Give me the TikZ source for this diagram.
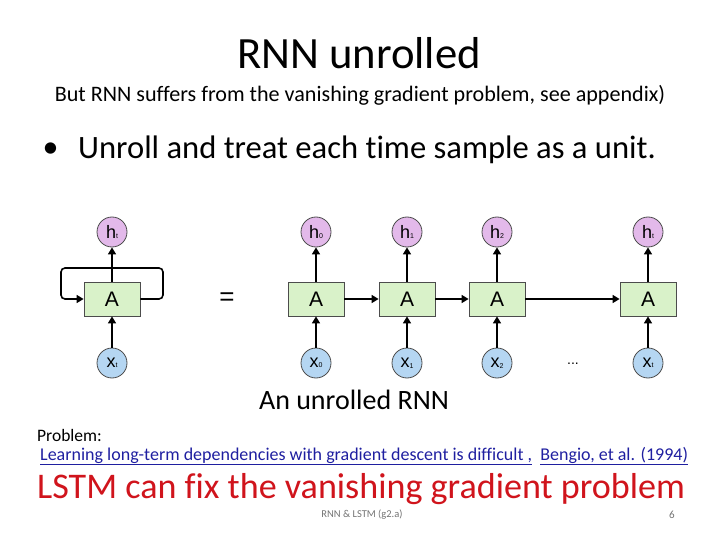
\documentclass[tikz,border=0pt]{standalone}
\usepackage{fontspec}
\setmainfont{Carlito}[Ligatures=NoCommon]
\newfontfamily\diag{Liberation Sans}
\usetikzlibrary{arrows.meta}
\definecolor{boxfill}{HTML}{D9F2C9}
\definecolor{hfill}{HTML}{E3B9EA}
\definecolor{xfill}{HTML}{B5D6F2}
\definecolor{linkblue}{HTML}{1F1FA0}
\definecolor{redtxt}{HTML}{D0141C}
\tikzset{
  cell/.style={draw=black!70, fill=boxfill, line width=0.8pt, minimum width=56pt, minimum height=34pt, inner sep=0pt, font=\diag\fontsize{21}{21}\selectfont},
  hnode/.style={circle, draw=black!70, fill=hfill, line width=0.8pt, minimum size=30pt, inner sep=0pt, font=\diag\fontsize{18}{18}\selectfont},
  xnode/.style={circle, draw=black!70, fill=xfill, line width=0.8pt, minimum size=30pt, inner sep=0pt, font=\diag\fontsize{18}{18}\selectfont},
  conn/.style={line width=1.6pt, -{Triangle[length=7pt,width=8pt]}},
}
\newcommand{\tinysub}[1]{\raisebox{-0.5pt}{\fontsize{7}{7}\selectfont #1}}
\begin{document}
\begin{tikzpicture}[x=1pt,y=-1pt]
\useasboundingbox (0,0) rectangle (720,540);
\node (title) at (359,53) {\fontsize{44.7}{44.7}\selectfont RNN unrolled};
\node (sub) at (360,95) {\fontsize{22.1}{22.1}\selectfont But RNN suffers from the vanishing gradient problem, see appendix)};
\node[anchor=west] (bullet) at (39,150) {\fontsize{32}{32}\selectfont\textbullet};
\node[anchor=west, inner sep=0pt] (btext) at (78,150) {\fontsize{32.6}{32.6}\selectfont Unroll and treat each time sample as a unit.};

% left folded RNN
\node[cell] (A) at (112,299) {A};
\node[hnode] (h) at (112,232) {h\tinysub{t}};
\node[xnode] (x) at (112,363) {x\tinysub{t}};
\draw[conn] (x) -- (A);
\draw[conn] (A) -- (h);
\draw[conn, rounded corners=4pt] (A.east) -- (163,299) -- (163,268) -- (61,268) -- (61,299) -- (A.west);
\node (eq) at (227,299) {\diag\fontsize{26}{26}\selectfont =};

% unrolled
\foreach \i/\xx/\lab in {0/316/0, 1/407/1, 2/497/2, 3/648/t}{
  \node[cell] (A\i) at (\xx,299) {A};
  \node[hnode] (h\i) at (\xx,232) {h\tinysub{\lab}};
  \node[xnode] (x\i) at (\xx,363) {x\tinysub{\lab}};
  \draw[conn] (x\i) -- (A\i);
  \draw[conn] (A\i) -- (h\i);
}
\draw[conn] (A0) -- (A1);
\draw[conn] (A1) -- (A2);
\draw[conn] (A2) -- (A3);
\node (dots) at (573,364) {\diag\fontsize{14}{14}\selectfont ...};

\node (cap) at (354,400) {\fontsize{28}{28}\selectfont An unrolled RNN};
\node[anchor=west, inner sep=0pt] (prob) at (37,435) {\fontsize{17.5}{17.5}\selectfont Problem:};
\node[anchor=west, inner sep=0pt, text=linkblue] (link) at (40,456) {\fontsize{18}{18}\selectfont \underline{Learning long-term dependencies with gradient descent is difficult ,}\ \ \underline{Bengio, et al. (1994)}};
\node[anchor=west, inner sep=0pt, text=redtxt] (lstm) at (37,489) {\fontsize{36.1}{36.1}\selectfont LSTM can fix the vanishing gradient problem};
\node[text=black!55] (foot) at (362,515) {\fontsize{10.5}{10.5}\selectfont RNN \& LSTM (g2.a)};
\node[text=black!55] (pg) at (672,515) {\fontsize{11}{11}\selectfont 6};
\end{tikzpicture}
\end{document}
